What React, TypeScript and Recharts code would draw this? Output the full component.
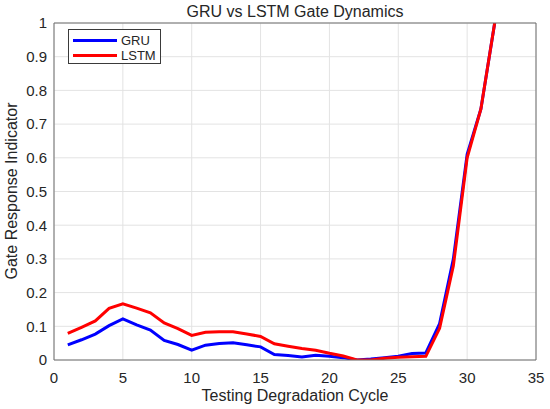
import { LineChart, Line, XAxis, YAxis, CartesianGrid, Legend } from 'recharts';

const cycles = [
    1, 2, 3, 4, 5, 6, 7, 8, 9, 10, 11, 12, 13, 14, 15, 16,
    17, 18, 19, 20, 21, 22, 23, 24, 25, 26, 27, 28, 29, 30, 31, 32,
];
const gruValues = [
    0.045, 0.06, 0.077, 0.102, 0.122, 0.104, 0.089, 0.058, 0.046, 0.029, 0.044, 0.049, 0.051, 0.045, 0.039, 0.016,
    0.013, 0.009, 0.014, 0.011, 0.007, 0.0, 0.003, 0.007, 0.011, 0.019, 0.021, 0.108, 0.3, 0.61, 0.745, 1.0,
];
const lstmValues = [
    0.079, 0.097, 0.116, 0.153, 0.167, 0.154, 0.14, 0.11, 0.093, 0.073, 0.082, 0.084, 0.084, 0.077, 0.07, 0.048,
    0.041, 0.034, 0.029, 0.02, 0.012, 0.0, 0.0, 0.005, 0.008, 0.01, 0.011, 0.094, 0.28, 0.6, 0.745, 1.0,
];
const xTicks = [0, 5, 10, 15, 20, 25, 30, 35];
const yTicks = [0, 0.1, 0.2, 0.3, 0.4, 0.5, 0.6, 0.7, 0.8, 0.9, 1];

const series = [
    { key: 'gru', name: 'GRU', color: '#0000ff' },
    { key: 'lstm', name: 'LSTM', color: '#ff0000' },
];

const data = cycles.map((c, i) => ({ cycle: c, gru: gruValues[i], lstm: lstmValues[i] }));

const FONT = '"Liberation Sans", Arial, sans-serif';
const TEXT = '#262626';
const AXIS = '#6e6e6e';

function LegendBox() {
    return (
        <div
            style={{
                width: 91,
                height: 33,
                border: '1px solid #3a3a3a',
                background: '#fff',
                fontFamily: FONT,
                fontSize: 13,
                color: TEXT,
                position: 'relative',
            }}
        >
            {series.map((s, i) => (
                <div
                    key={s.key}
                    style={{ position: 'absolute', left: 4, top: 3 + i * 15, height: 15, display: 'flex', alignItems: 'center' }}
                >
                    <div style={{ width: 44, height: 3, background: s.color }} />
                    <span style={{ marginLeft: 4 }}>{s.name}</span>
                </div>
            ))}
        </div>
    );
}

export default function App() {
    return (
        <div style={{ position: 'absolute', left: 0, top: 0, width: 550, height: 409, background: '#fff' }}>
            <LineChart width={550} height={409} data={data} margin={{ top: 23, right: 14, bottom: 0, left: 0 }}>
                <CartesianGrid stroke="#e3e3e3" strokeWidth={1} />
                <XAxis
                    dataKey="cycle"
                    type="number"
                    domain={[0, 35]}
                    ticks={xTicks}
                    height={49}
                    axisLine={{ stroke: AXIS }}
                    tickLine={false}
                    tickSize={6}
                    tickMargin={6}
                    tick={{ fill: TEXT, fontSize: 15, fontFamily: FONT }}
                    label={{
                        content: () => (
                            <text x={295} y={401} textAnchor="middle" fill={TEXT} fontSize={16} fontFamily={FONT}>
                                Testing Degradation Cycle
                            </text>
                        ),
                    }}
                />
                <XAxis
                    xAxisId="top"
                    orientation="top"
                    type="number"
                    domain={[0, 35]}
                    ticks={xTicks}
                    mirror
                    tick={false}
                    tickSize={5}
                    axisLine={{ stroke: AXIS }}
                    tickLine={{ stroke: AXIS }}
                    label={{
                        content: () => (
                            <text x={295} y={17} textAnchor="middle" fill={TEXT} fontSize={16} fontFamily={FONT}>
                                GRU vs LSTM Gate Dynamics
                            </text>
                        ),
                    }}
                />
                <YAxis
                    type="number"
                    domain={[0, 1]}
                    ticks={yTicks}
                    allowDataOverflow
                    width={54}
                    axisLine={{ stroke: AXIS }}
                    tickLine={false}
                    tickSize={4}
                    tickMargin={3}
                    tick={{ fill: TEXT, fontSize: 15, fontFamily: FONT }}
                    label={{
                        content: () => (
                            <text
                                x={17}
                                y={191}
                                transform="rotate(-90 17 191)"
                                textAnchor="middle"
                                fill={TEXT}
                                fontSize={16}
                                fontFamily={FONT}
                            >
                                Gate Response Indicator
                            </text>
                        ),
                    }}
                />
                <YAxis
                    yAxisId="right"
                    orientation="right"
                    type="number"
                    domain={[0, 1]}
                    ticks={yTicks}
                    mirror
                    tick={false}
                    tickSize={5}
                    axisLine={{ stroke: AXIS }}
                    tickLine={{ stroke: AXIS }}
                />
                <Legend
                    layout="vertical"
                    align="center"
                    verticalAlign="middle"
                    wrapperStyle={{ position: 'absolute', left: 68, top: 29, width: 93, height: 35 }}
                    content={() => <LegendBox />}
                />
                {series.map((s) => (
                    <Line
                        key={s.key}
                        type="linear"
                        dataKey={s.key}
                        name={s.name}
                        stroke={s.color}
                        strokeWidth={3}
                        dot={false}
                        isAnimationActive={false}
                    />
                ))}
            </LineChart>
        </div>
    );
}
